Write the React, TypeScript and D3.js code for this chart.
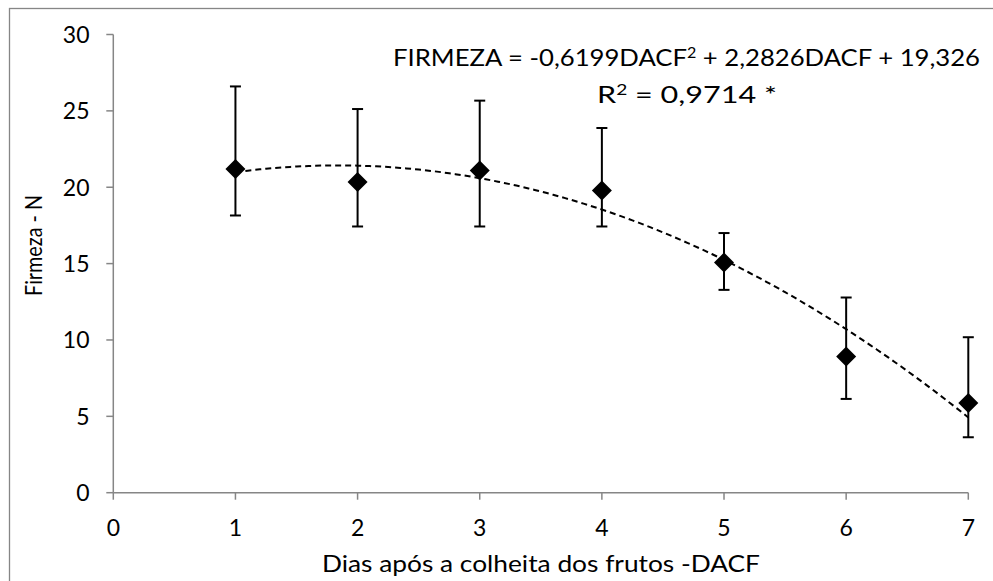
import React from "react";
import * as d3 from "d3";

// Firmness (N) measured on each day after harvest, with error-bar bounds
const days = [1, 2, 3, 4, 5, 6, 7];
const firmeza = [21.2, 20.35, 21.1, 19.78, 15.07, 8.92, 5.87];
const upperBound = [26.6, 25.12, 25.67, 23.88, 17.0, 12.78, 10.18];
const lowerBound = [18.15, 17.43, 17.43, 17.43, 13.28, 6.14, 3.63];

// Quadratic fit: FIRMEZA = a·DACF² + b·DACF + c
const fitA = -0.6199;
const fitB = 2.2826;
const fitC = 19.326;

const xTicks = [0, 1, 2, 3, 4, 5, 6, 7];
const yTicks = [0, 5, 10, 15, 20, 25, 30];

// equation text split around the superscript "2"
const equationParts = ["FIRMEZA = -0,6199DACF", "2", " + 2,2826DACF + 19,326"];
const r2Parts = ["R", "2", " = 0,9714 *"];
const xTitle = "Dias após a colheita dos frutos -DACF";
const yTitle = "Firmeza - N";

const W = 993;
const H = 581;
const FONT = "Lato, 'Open Sans', sans-serif";
const AXIS = "#868686";

function SupText(props: {
  parts: string[];
  x: number;
  y: number;
  length: number;
}) {
  const { parts, x, y, length } = props;
  return (
    <text
      x={x}
      y={y}
      textLength={length}
      lengthAdjust="spacingAndGlyphs"
      fontFamily={FONT}
      fontSize={24}
      fill="#000"
    >
      <tspan>{parts[0]}</tspan>
      <tspan fontSize={15} dy={-8}>
        {parts[1]}
      </tspan>
      <tspan dy={8}>{parts[2]}</tspan>
    </text>
  );
}

export default function App() {
  const x = d3.scaleLinear().domain([0, 7]).range([113.3, 968.3]);
  const y = d3.scaleLinear().domain([0, 30]).range([492.7, 34.5]);

  const fitXs = d3.range(1, 7.0001, 0.05);
  const fitLine = d3
    .line<number>()
    .x((d) => x(d))
    .y((d) => y(fitA * d * d + fitB * d + fitC));

  const diamond = d3.symbol(d3.symbolSquare, 200)() as string;
  const cap = 5.5;

  return (
    <svg
      width={W}
      height={H}
      style={{ position: "absolute", left: 0, top: 0, background: "#fff" }}
    >
      <rect x={9.5} y={8.5} width={1100} height={700} fill="#fff" stroke={AXIS} strokeWidth={1.3} />

      {/* axes */}
      <line x1={x(0)} x2={x(0)} y1={y(0)} y2={y(30)} stroke={AXIS} strokeWidth={1.5} />
      <line x1={x(0)} x2={x(7)} y1={y(0)} y2={y(0)} stroke={AXIS} strokeWidth={1.5} />
      {yTicks.map((t) => (
        <g key={"y" + t}>
          <line x1={x(0) - 7} x2={x(0)} y1={y(t)} y2={y(t)} stroke={AXIS} strokeWidth={1.5} />
          <text
            x={89.5}
            y={y(t)}
            dy="0.36em"
            textAnchor="end"
            fontFamily={FONT}
            fontSize={23}
            fill="#000"
          >
            {t}
          </text>
        </g>
      ))}
      {xTicks.map((t) => (
        <g key={"x" + t}>
          <line x1={x(t)} x2={x(t)} y1={y(0)} y2={y(0) + 7} stroke={AXIS} strokeWidth={1.5} />
          <text
            x={x(t)}
            y={536}
            textAnchor="middle"
            fontFamily={FONT}
            fontSize={23}
            fill="#000"
          >
            {t}
          </text>
        </g>
      ))}

      {/* fitted curve */}
      <path
        d={fitLine(fitXs) as string}
        fill="none"
        stroke="#000"
        strokeWidth={2}
        strokeDasharray="6 4"
      />

      {/* error bars */}
      {days.map((d, i) => (
        <g key={"e" + d} stroke="#000" strokeWidth={2}>
          <line x1={x(d)} x2={x(d)} y1={y(upperBound[i])} y2={y(lowerBound[i])} />
          <line x1={x(d) - cap} x2={x(d) + cap} y1={y(upperBound[i])} y2={y(upperBound[i])} />
          <line x1={x(d) - cap} x2={x(d) + cap} y1={y(lowerBound[i])} y2={y(lowerBound[i])} />
        </g>
      ))}

      {/* data points */}
      {days.map((d, i) => (
        <path
          key={"p" + d}
          d={diamond}
          transform={`translate(${x(d)},${y(firmeza[i])}) rotate(45)`}
          fill="#000"
        />
      ))}

      {/* regression equation */}
      <SupText parts={equationParts} x={393} y={66} length={587} />
      <SupText parts={r2Parts} x={597} y={103} length={180} />

      {/* axis titles */}
      <text
        x={322}
        y={572}
        textLength={438}
        lengthAdjust="spacingAndGlyphs"
        fontFamily={FONT}
        fontSize={23}
        fill="#000"
      >
        {xTitle}
      </text>
      <text
        transform={`translate(42,296) rotate(-90)`}
        textLength={101}
        lengthAdjust="spacingAndGlyphs"
        fontFamily={FONT}
        fontSize={23}
        fill="#000"
      >
        {yTitle}
      </text>
    </svg>
  );
}
